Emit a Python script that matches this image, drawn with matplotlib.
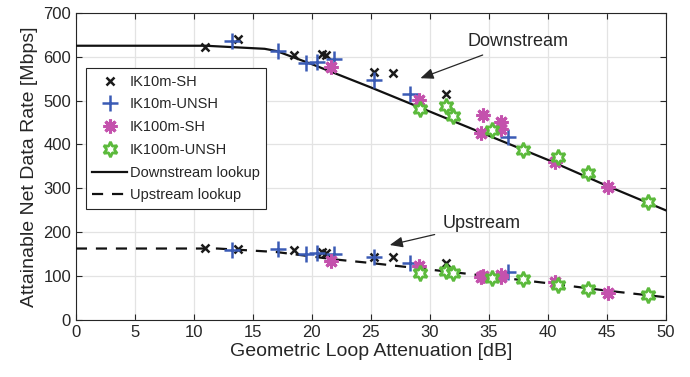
import numpy as np
import matplotlib
matplotlib.use('Agg')
import matplotlib.pyplot as plt

plt.rcParams['font.family'] = ['Liberation Sans', 'DejaVu Sans']

# Lookup curves (dB, Mbps)
ds_att = [0, 11, 16, 17, 20, 25, 30, 35, 40, 45, 50]
ds_rate = [625, 625, 618, 613, 583, 530, 475, 420, 365, 306, 250]
us_att = [0, 12, 17, 22, 25, 30, 35, 40, 45, 50]
us_rate = [163, 163, 155, 138, 130, 115, 100, 84, 67, 52]

# IK10m-SH
sh10_att = [10.9, 13.7, 18.5, 20.9, 21.2, 25.3, 26.9, 31.4]
sh10_ds = [623, 640, 605, 607, 605, 566, 564, 514]
sh10_us = [165, 161, 159, 155, 153, 143, 143, 129]

# IK10m-UNSH
un10_att = [13.2, 17.1, 19.5, 20.4, 21.9, 25.3, 28.3, 36.6]
un10_ds = [636, 613, 585, 588, 594, 547, 516, 418]
un10_us = [159, 161, 150, 153, 150, 143, 129, 110]

# IK100m-SH
sh100_att = [21.6, 29.1, 34.5, 36.0, 36.0, 34.3, 40.6, 45.1]
sh100_ds = [577, 501, 467, 452, 435, 427, 361, 304]
sh100_us = [135, 123, 101, 102, 98, 99, 87, 62]

# IK100m-UNSH
un100_att = [29.2, 31.4, 32.0, 35.3, 37.9, 40.9, 43.4, 48.5]
un100_ds = [482, 488, 465, 433, 387, 372, 336, 270]
un100_us = [108, 112, 108, 95, 93, 80, 70, 57]

c_blue = '#3a5bb5'
c_pink = '#c452ad'
c_green = '#5cba3c'
txt = '#262626'

fig = plt.figure(figsize=(6.9, 3.77), dpi=100)
ax = fig.add_axes([0.110, 0.151, 0.855, 0.815])

ax.plot(sh10_att, sh10_ds, linestyle='none', marker='x', color='#1a1a1a', ms=6, mew=1.8, label='IK10m-SH', zorder=4)
ax.plot(sh10_att, sh10_us, linestyle='none', marker='x', color='#1a1a1a', ms=6, mew=1.8, zorder=4)
ax.plot(un10_att, un10_ds, linestyle='none', marker='+', color=c_blue, ms=11, mew=1.8, label='IK10m-UNSH', zorder=4)
ax.plot(un10_att, un10_us, linestyle='none', marker='+', color=c_blue, ms=11, mew=1.8, zorder=4)
ax.plot(sh100_att, sh100_ds, linestyle='none', marker=(8, 2, 0), color=c_pink, ms=10, mew=2.2, label='IK100m-SH', zorder=4)
ax.plot(sh100_att, sh100_us, linestyle='none', marker=(8, 2, 0), color=c_pink, ms=10, mew=2.2, zorder=4)
ax.plot(un100_att, un100_ds, linestyle='none', marker=(6, 1, 0), color=c_green, mfc='white', ms=11, mew=2.0, label='IK100m-UNSH', zorder=4)
ax.plot(un100_att, un100_us, linestyle='none', marker=(6, 1, 0), color=c_green, mfc='white', ms=11, mew=2.0, zorder=4)

ax.plot(ds_att, ds_rate, color='#111111', lw=1.6, label='Downstream lookup', zorder=3)
ax.plot(us_att, us_rate, color='#111111', lw=1.6, ls=(0, (5, 4)), label='Upstream lookup', zorder=3)

ax.annotate('Downstream', xy=(29.2, 551), xytext=(33.2, 634), fontsize=13, color=txt,
            va='center', ha='left',
            arrowprops=dict(arrowstyle='-|>,head_length=0.6,head_width=0.25', color=txt, lw=0.9,
                            shrinkA=4, shrinkB=0))
ax.annotate('Upstream', xy=(26.6, 171), xytext=(31.1, 220), fontsize=13, color=txt,
            va='center', ha='left',
            arrowprops=dict(arrowstyle='-|>,head_length=0.6,head_width=0.25', color=txt, lw=0.9,
                            shrinkA=4, shrinkB=0))

ax.set_xlim(0, 50)
ax.set_ylim(0, 700)
ax.set_xticks(np.arange(0, 51, 5))
ax.set_yticks(np.arange(0, 701, 100))
ax.grid(True, color='#e3e3e3', lw=0.9)
ax.set_axisbelow(True)
ax.tick_params(direction='in', top=True, right=True, labelsize=12, colors=txt, length=4)
for s in ax.spines.values():
    s.set_color('#262626')
    s.set_linewidth(0.8)
ax.set_xlabel('Geometric Loop Attenuation [dB]', fontsize=14, color=txt, labelpad=2)
ax.set_ylabel('Attainable Net Data Rate [Mbps]', fontsize=14, color=txt, labelpad=4)

leg = ax.legend(loc='upper left', bbox_to_anchor=(0.017, 0.82), fontsize=10.5,
                fancybox=False, framealpha=1, edgecolor='#262626', borderpad=0.45,
                labelspacing=0.6, handlelength=2.4, handletextpad=0.15, borderaxespad=0)
leg.get_frame().set_linewidth(0.8)
for t in leg.get_texts():
    t.set_color(txt)

fig.savefig('out.png', dpi=100)
